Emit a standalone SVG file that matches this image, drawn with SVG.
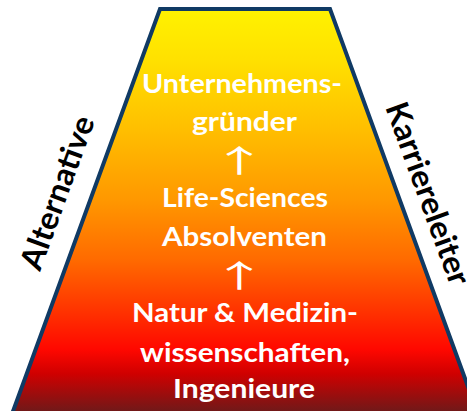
<svg xmlns="http://www.w3.org/2000/svg" width="467" height="411" viewBox="0 0 467 411">
<defs>
<linearGradient id="g" x1="0" y1="0" x2="0" y2="1">
<stop offset="0" stop-color="#FFF200"/>
<stop offset="0.13" stop-color="#FFE000"/>
<stop offset="0.3" stop-color="#FFBE00"/>
<stop offset="0.47" stop-color="#FF9800"/>
<stop offset="0.62" stop-color="#FF6A00"/>
<stop offset="0.77" stop-color="#FF2800"/>
<stop offset="0.84" stop-color="#FF0800"/>
<stop offset="0.9" stop-color="#D00000"/>
<stop offset="1" stop-color="#6A1A1A"/>
</linearGradient>
<style>
.c{font-family:Lato,"Open Sans",sans-serif;font-weight:bold;font-size:27.5px;fill:#fff;text-anchor:middle}
.a{font-family:"Noto Sans CJK SC",sans-serif;font-size:31px;fill:#fff;text-anchor:middle}
.s{font-family:Lato,"Open Sans",sans-serif;font-weight:bold;font-size:31.5px;fill:#000}
</style>
</defs>
<rect width="467" height="411" fill="#fff"/>
<g id="ladder">
<polygon points="160,9 330,9 478,414 12,414" fill="url(#g)" stroke="#103A64" stroke-width="4" stroke-linejoin="miter"/>
</g>
<g id="top">
<text class="c" x="242" y="93" textLength="200" lengthAdjust="spacingAndGlyphs">Unternehmens-</text>
<text class="c" x="244.5" y="131" textLength="105" lengthAdjust="spacingAndGlyphs">gründer</text>
</g>
<g id="arrow1"><text class="a" transform="translate(239.5,172) scale(1.8,1)">↑</text></g>
<g id="middle">
<text class="c" x="245" y="207" textLength="166" lengthAdjust="spacingAndGlyphs">Life-Sciences</text>
<text class="c" x="244.5" y="246" textLength="165" lengthAdjust="spacingAndGlyphs">Absolventen</text>
</g>
<g id="arrow2"><text class="a" transform="translate(239.5,287) scale(1.8,1)">↑</text></g>
<g id="bottom">
<text class="c" x="245" y="322" textLength="226" lengthAdjust="spacingAndGlyphs">Natur &amp; Medizin-</text>
<text class="c" x="245" y="362" textLength="210" lengthAdjust="spacingAndGlyphs">wissenschaften,</text>
<text class="c" x="244" y="398" textLength="142" lengthAdjust="spacingAndGlyphs">Ingenieure</text>
</g>
<g id="labels">
<text class="s" transform="translate(40,272) rotate(-70)" textLength="161" lengthAdjust="spacingAndGlyphs">Alternative</text>
<text class="s" transform="translate(385,107) rotate(70)" textLength="192" lengthAdjust="spacingAndGlyphs">Karriereleiter</text>
</g>
</svg>
